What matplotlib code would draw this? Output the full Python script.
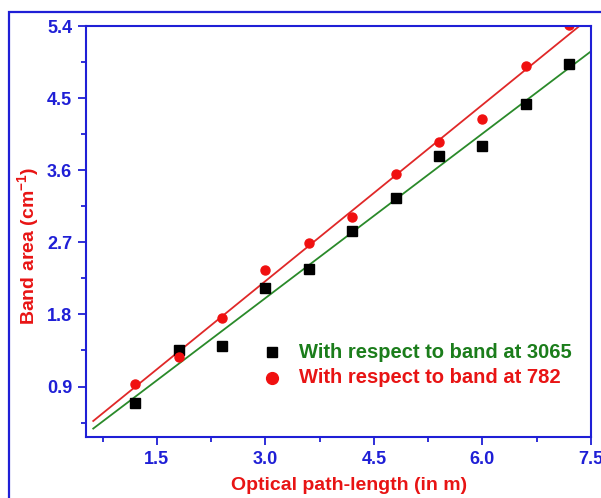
import numpy as np
import matplotlib
matplotlib.use('Agg')
import matplotlib.pyplot as plt
from matplotlib.patches import Rectangle
from matplotlib.ticker import MultipleLocator, FormatStrFormatter

plt.rcParams['font.family'] = ['Liberation Sans', 'DejaVu Sans']
plt.rcParams['mathtext.fontset'] = 'custom'
plt.rcParams['mathtext.rm'] = 'Liberation Sans:bold'
plt.rcParams['mathtext.bf'] = 'Liberation Sans:bold'
plt.rcParams['mathtext.default'] = 'bf'

# optical path length (m)
path_len = [1.2, 1.8, 2.4, 3.0, 3.6, 4.2, 4.8, 5.4, 6.0, 6.6, 7.2]
# band areas (cm^-1)
area_3065 = [0.69, 1.35, 1.41, 2.13, 2.37, 2.84, 3.25, 3.78, 3.90, 4.43, 4.93]
area_782 = [0.93, 1.27, 1.76, 2.35, 2.69, 3.01, 3.55, 3.95, 4.24, 4.90, 5.41]

blue = '#1f1fd6'
red = '#e81414'
green = '#1b7d1b'

fig = plt.figure(figsize=(6.01, 4.98), dpi=100)
ax = fig.add_axes([86/601, 61/498, 505/601, 411/498])

# outer frame
fig.patches.append(Rectangle((8.5/601, -0.1), 1.2, (498-12.5)/498 + 0.1,
                             transform=fig.transFigure, fill=False,
                             edgecolor=blue, linewidth=1.6))

x = np.array(path_len)
xfit = np.array([0.62, 7.5])
for yv, lc in [(area_3065, '#2a8a2a'), (area_782, '#e02828')]:
    k, b = np.polyfit(x, yv, 1)
    ax.plot(xfit, k * xfit + b, color=lc, linewidth=1.3)

ax.plot(x, area_3065, 's', color='black', markersize=6.5)
ax.plot(x, area_782, 'o', color='#f01010', markersize=6.5)

ax.set_xlim(0.52, 7.5)
ax.set_ylim(0.27, 5.4)
ax.xaxis.set_major_locator(MultipleLocator(1.5))
ax.xaxis.set_minor_locator(MultipleLocator(0.75))
ax.yaxis.set_major_locator(MultipleLocator(0.9))
ax.yaxis.set_minor_locator(MultipleLocator(0.45))
ax.xaxis.set_major_formatter(FormatStrFormatter('%.1f'))
ax.yaxis.set_major_formatter(FormatStrFormatter('%.1f'))

for sp in ax.spines.values():
    sp.set_color(blue)
    sp.set_linewidth(1.5)
ax.tick_params(which='major', direction='out', length=6, width=1.3, color=blue,
               labelcolor=blue, labelsize=13, pad=4)
ax.tick_params(which='minor', direction='out', length=3.6, width=1.3, color=blue)
for lab in ax.get_xticklabels() + ax.get_yticklabels():
    lab.set_fontweight('bold')

ax.set_xlabel('Optical path-length (in m)', color=red, fontsize=14,
              fontweight='bold', va='center')
ax.set_ylabel('Band area (cm$^{-1}$)', color=red, fontsize=14,
              fontweight='bold', va='center')
ax.xaxis.set_label_coords((349-86)/505, -0.117)
ax.yaxis.set_label_coords((28-86)/505, 0.465)

# legend entries
ax.plot([3.09], [1.325], 's', color='black', markersize=7.5)
ax.plot([3.09], [1.01], 'o', color='#f01010', markersize=8.5)
ax.text(3.47, 1.325, 'With respect to band at 3065', color=green, fontsize=14.5,
        fontweight='bold', va='center')
ax.text(3.47, 1.01, 'With respect to band at 782', color=red, fontsize=14.5,
        fontweight='bold', va='center')

fig.savefig('out.png', dpi=100)
